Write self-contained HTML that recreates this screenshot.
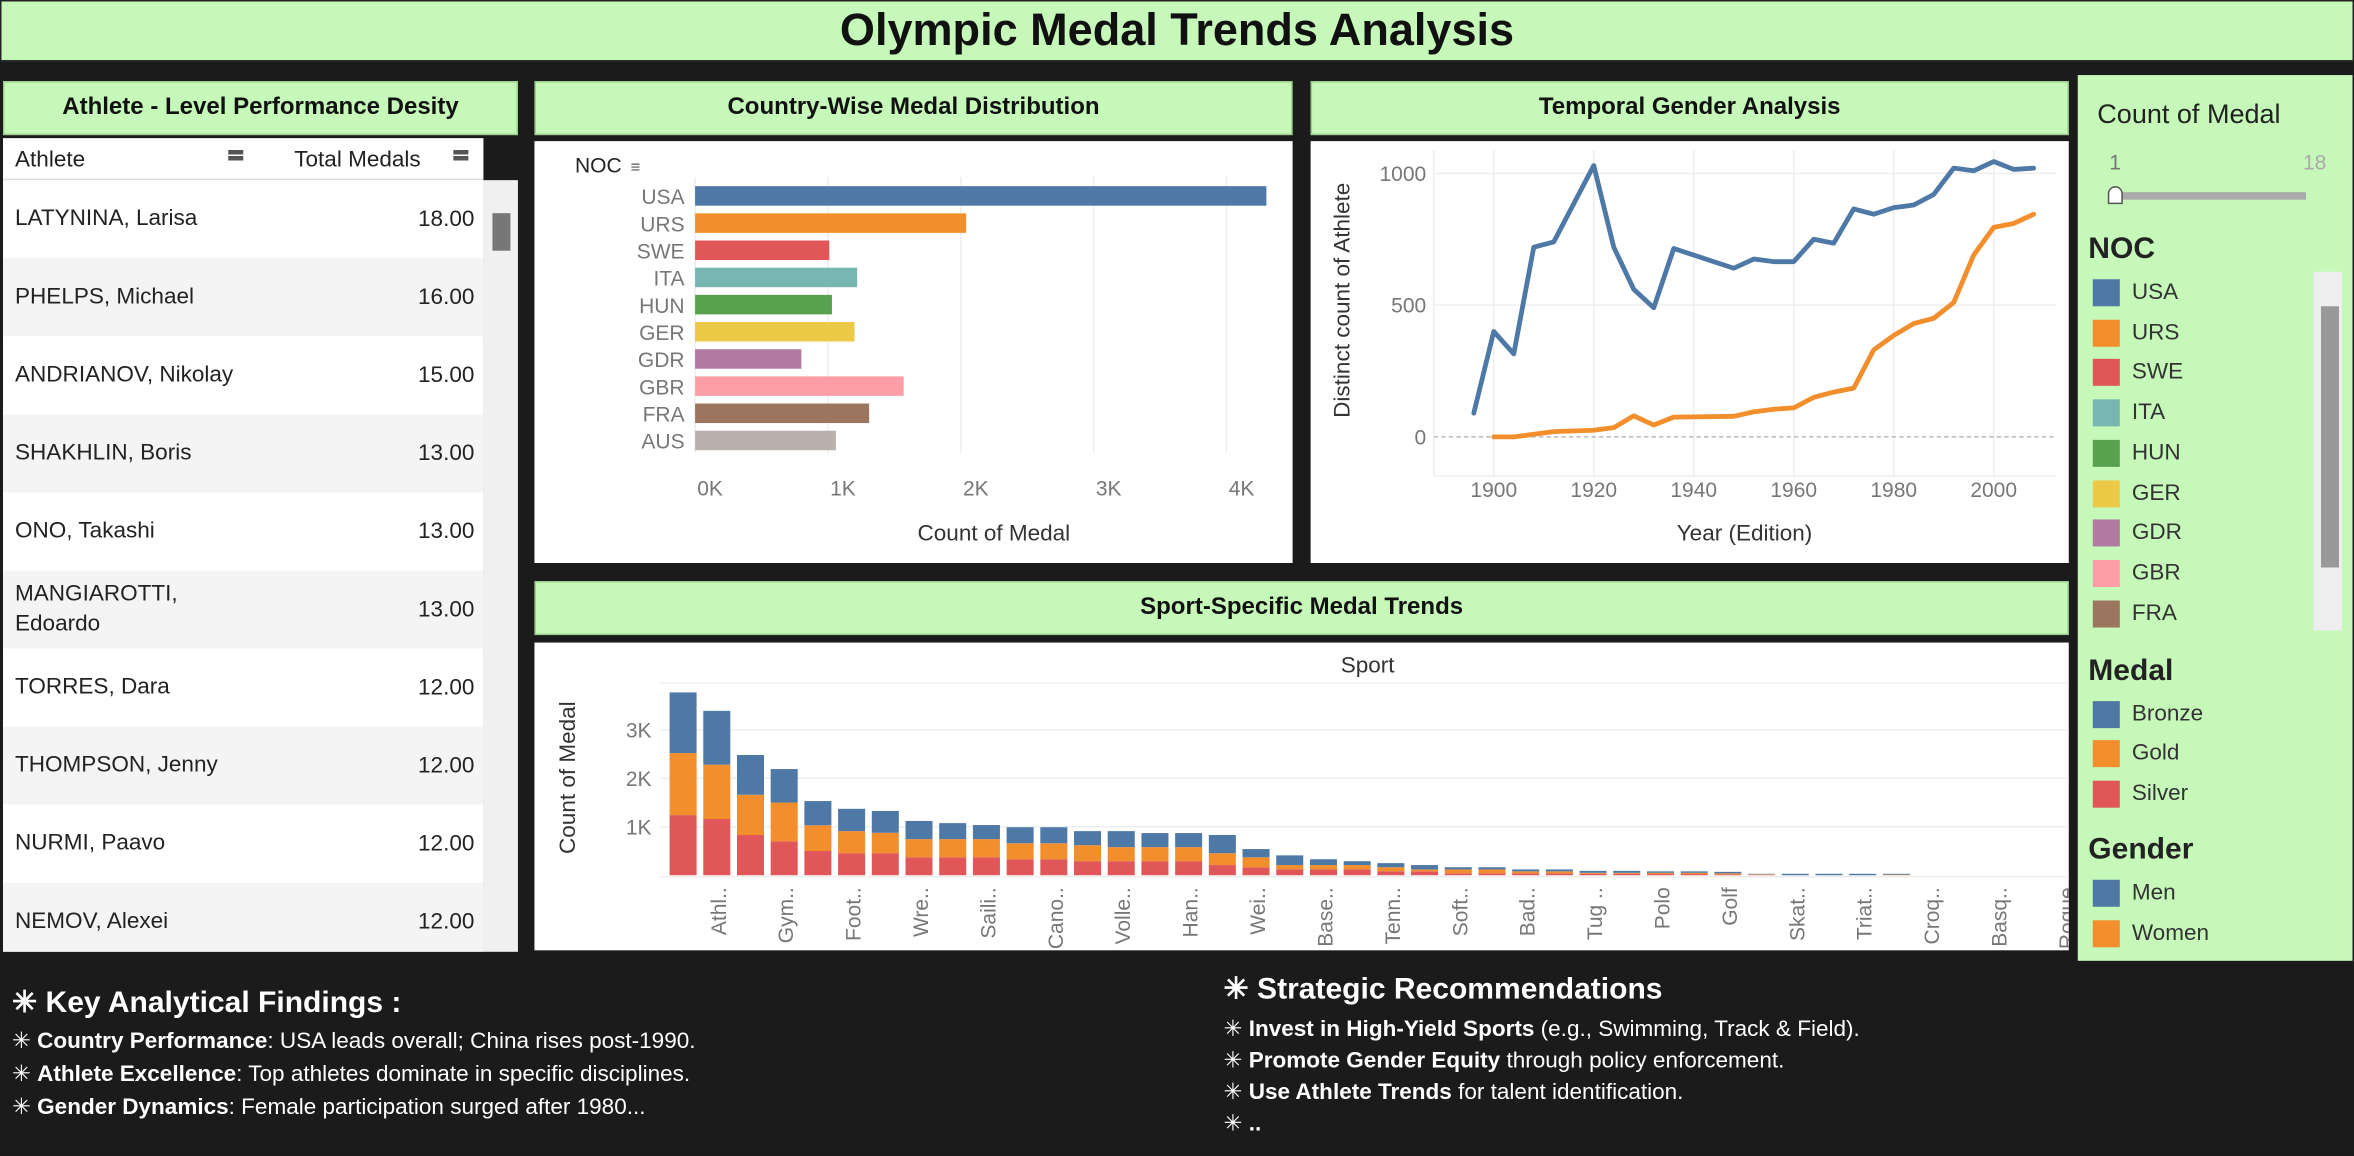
<!DOCTYPE html>
<html><head><meta charset="utf-8">
<style>
html,body{margin:0;padding:0;background:#1b1b1b;overflow:hidden;}
#root{position:absolute;left:0;top:0;width:1568px;height:770px;transform:scale(1.50128);transform-origin:0 0;background:#1b1b1b;font-family:"Liberation Sans",sans-serif;}
.abs{position:absolute;}
.hdr{position:absolute;background:#c6f8ba;border:1px solid #9ad08c;display:flex;align-items:center;justify-content:center;font-weight:bold;font-size:16px;color:#111;box-sizing:border-box;}
.panel{position:absolute;background:#fff;}
.row{position:absolute;left:0;width:320px;height:52px;font-size:15px;color:#222;}
.row .n{position:absolute;left:8px;top:50%;transform:translateY(-50%);line-height:20px;}
.row .v{position:absolute;right:6px;top:50%;transform:translateY(-50%);}
.lg{position:absolute;left:10px;font-size:15px;color:#333;height:20px;}
.lg i{position:absolute;left:0;top:1px;width:18px;height:18px;}
.lg span{position:absolute;left:26px;top:1px;white-space:nowrap;}
.txt{position:absolute;color:#fff;font-size:15px;white-space:nowrap;}
</style></head><body>
<div id="root">
<div class="hdr" style="left:0;top:0;width:1568px;height:41px;font-size:30px;border:1px solid #222;">Olympic Medal Trends Analysis</div>

<div class="hdr" style="left:2px;top:54px;width:343px;height:36px;">Athlete - Level Performance Desity</div>
<div class="panel" style="left:2px;top:92px;width:320px;height:542px;overflow:hidden;">
 <div class="abs" style="left:8px;top:6px;font-size:15px;color:#222;">Athlete</div>
 <div class="abs" style="left:150px;top:7px;width:14px;font-size:10px;line-height:4px;color:#555;">▬<br>▬</div>
 <div class="abs" style="left:194px;top:6px;font-size:15px;color:#222;">Total Medals</div>
 <div class="abs" style="left:300px;top:7px;width:14px;font-size:10px;line-height:4px;color:#555;">▬<br>▬</div>
 <div class="abs" style="left:0;top:27px;width:320px;height:1px;background:#ddd;"></div>
 <div id="rows" class="abs" style="left:0;top:28px;width:320px;height:514px;overflow:hidden;"></div>
</div>
<div class="abs" style="left:322px;top:120px;width:23px;height:514px;background:#f0f0f0;">
 <div class="abs" style="left:6px;top:22px;width:12px;height:25px;background:#777;"></div>
</div>

<div class="hdr" style="left:356px;top:54px;width:505px;height:36px;">Country-Wise Medal Distribution</div>
<div class="panel" style="left:356px;top:94px;width:505px;height:281px;"></div>
<div class="hdr" style="left:873px;top:54px;width:505px;height:36px;">Temporal Gender Analysis</div>
<div class="panel" style="left:873px;top:94px;width:505px;height:281px;"></div>
<div class="hdr" style="left:356px;top:387px;width:1022px;height:36px;">Sport-Specific Medal Trends</div>
<div class="panel" style="left:356px;top:428px;width:1022px;height:205px;"></div>

<svg id="charts" class="abs" style="left:0;top:0;" width="1568" height="770" font-family="Liberation Sans, sans-serif">
<defs><clipPath id="sportclip"><rect x="356" y="428" width="1022" height="205"/></clipPath></defs>
</svg>

<div class="abs" style="left:1384px;top:50px;width:183px;height:590px;background:#c6f8ba;">
 <div class="abs" style="left:13px;top:16px;font-size:18px;color:#222;">Count of Medal</div>
 <div class="abs" style="left:21px;top:50px;font-size:14px;color:#777;">1</div>
 <div class="abs" style="left:150px;top:50px;font-size:14px;color:#aaa;">18</div>
 <div class="abs" style="left:24px;top:78px;width:128px;height:5px;background:#aaa;"></div>
 <div class="abs" style="left:20px;top:74px;width:8px;height:10px;background:#fff;border:1px solid #555;border-radius:5px 5px 0 0;"></div>
 <div class="abs" style="left:7px;top:105px;font-size:20px;font-weight:bold;color:#222;">NOC</div>
 <div id="noclg"></div>
 <div class="abs" style="left:157px;top:131px;width:19px;height:239px;background:#eee;">
  <div class="abs" style="left:5px;top:23px;width:12px;height:174px;background:#999;"></div>
 </div>
 <div class="abs" style="left:7px;top:386px;font-size:20px;font-weight:bold;color:#222;">Medal</div>
 <div class="lg" style="top:416px;"><i style="background:#4e79a7"></i><span>Bronze</span></div>
 <div class="lg" style="top:442px;"><i style="background:#f28e2b"></i><span>Gold</span></div>
 <div class="lg" style="top:469px;"><i style="background:#e15759"></i><span>Silver</span></div>
 <div class="abs" style="left:7px;top:505px;font-size:20px;font-weight:bold;color:#222;">Gender</div>
 <div class="lg" style="top:535px;"><i style="background:#4e79a7"></i><span>Men</span></div>
 <div class="lg" style="top:562px;"><i style="background:#f28e2b"></i><span>Women</span></div>
</div>

<div class="txt" style="left:8px;top:655px;font-size:20px;font-weight:bold;">✳ Key Analytical Findings :</div>
<div class="txt" style="left:8px;top:684px;">✳ <b>Country Performance</b>: USA leads overall; China rises post-1990.</div>
<div class="txt" style="left:8px;top:706px;">✳ <b>Athlete Excellence</b>: Top athletes dominate in specific disciplines.</div>
<div class="txt" style="left:8px;top:728px;">✳ <b>Gender Dynamics</b>: Female participation surged after 1980...</div>
<div class="txt" style="left:815px;top:646px;font-size:20px;font-weight:bold;">✳ Strategic Recommendations</div>
<div class="txt" style="left:815px;top:676px;">✳ <b>Invest in High-Yield Sports</b> (e.g., Swimming, Track &amp; Field).</div>
<div class="txt" style="left:815px;top:697px;">✳ <b>Promote Gender Equity</b> through policy enforcement.</div>
<div class="txt" style="left:815px;top:718px;">✳ <b>Use Athlete Trends</b> for talent identification.</div>
<div class="txt" style="left:815px;top:739px;">✳ <b>..</b></div>
</div>

<script>
// ---- data ----
const athletes = ["LATYNINA, Larisa","PHELPS, Michael","ANDRIANOV, Nikolay","SHAKHLIN, Boris","ONO, Takashi","MANGIAROTTI,<br>Edoardo","TORRES, Dara","THOMPSON, Jenny","NURMI, Paavo","NEMOV, Alexei"];
const athleteMedals = [18,16,15,13,13,13,12,12,12,12];

const nocs = ["USA","URS","SWE","ITA","HUN","GER","GDR","GBR","FRA","AUS"];
const nocMedals = [4300,2040,1010,1220,1030,1200,800,1570,1310,1060];
const nocColors = ["#4e79a7","#f28e2b","#e15759","#76b7b2","#59a14f","#edc948","#b07aa1","#ff9da7","#9c755f","#bab0ac"];
const countryTicks = [0,1000,2000,3000,4000];

const menYears = [1896,1900,1904,1908,1912,1920,1924,1928,1932,1936,1948,1952,1956,1960,1964,1968,1972,1976,1980,1984,1988,1992,1996,2000,2004,2008];
const menCounts = [90,400,315,720,740,1030,720,560,490,715,640,675,665,665,750,735,865,845,870,880,920,1020,1010,1045,1015,1020];
const womenYears = [1900,1904,1908,1912,1920,1924,1928,1932,1936,1948,1952,1956,1960,1964,1968,1972,1976,1980,1984,1988,1992,1996,2000,2004,2008];
const womenCounts = [0,0,10,20,25,35,80,45,75,78,95,105,110,150,170,185,330,385,430,450,510,690,795,810,845];
const yearTicks = [1900,1920,1940,1960,1980,2000];
const athleteTicks = [0,500,1000];

const sportLabels = ["","Athl..","","Gym..","","Foot..","","Wre..","","Saili..","","Cano..","","Volle..","","Han..","","Wei..","","Base..","","Tenn..","","Soft..","","Bad..","","Tug ..","","Polo","","Golf","","Skat..","","Triat..","","Croq..","","Basq..","","Roque"];
const silver = [1240,1160,830,700,500,455,455,370,370,370,330,330,290,290,290,290,210,165,120,120,120,80,80,40,40,40,40,30,30,25,25,20,10,0,0,0,0,0,0,0,0,0];
const gold   = [1280,1120,830,800,530,455,420,375,375,375,330,330,330,290,290,290,245,205,90,90,90,85,40,80,80,40,40,20,20,25,25,20,10,0,0,0,10,0,0,0,0,0];
const bronze = [1250,1110,820,690,500,460,450,375,330,290,330,330,290,330,290,290,375,170,200,120,80,85,90,45,45,40,40,40,40,30,30,30,10,30,30,30,20,0,0,0,0,0];
const sportTicks = [1000,2000,3000];

// ---- table ----
const rows = document.getElementById('rows');
athletes.forEach((a,i)=>{
  const r = document.createElement('div');
  r.className='row';
  r.style.top=(i*52)+'px';
  r.style.background = i%2 ? '#f4f4f4' : '#fff';
  
  
  r.innerHTML='<span class="n">'+a+'</span><span class="v">'+athleteMedals[i].toFixed(2)+'</span>';
  rows.appendChild(r);
});

// ---- NOC legend ----
const nl = document.getElementById('noclg');
nocs.slice(0,9).forEach((n,i)=>{
  const d=document.createElement('div');
  d.className='lg';
  d.style.top=(135+i*26.7)+'px';
  
  
  d.innerHTML='<i style="background:'+nocColors[i]+'"></i><span>'+n+'</span>';
  nl.appendChild(d);
});

// ---- SVG helpers ----
const svg = document.getElementById('charts');
const NS='http://www.w3.org/2000/svg';
function el(tag, attrs, parent, text){
  const e=document.createElementNS(NS,tag);
  for(const k in attrs) e.setAttribute(k,attrs[k]);
  if(text!==undefined) e.textContent=text;
  (parent||svg).appendChild(e);
  return e;
}

// ---- country bars ----
const cx = v => 463 + v*0.0885;
const cy = i => 124 + i*18.1;
countryTicks.forEach(t=>{
  const g=el('line',{x1:cx(t),x2:cx(t),y1:118,y2:302,stroke:'#eee'});
  
  
  const tl=el('text',{x:cx(t)+10,y:330,'font-size':14,fill:'#777','text-anchor':'middle'},svg,(t/1000)+'K');
  
  
});
const nt=el('text',{x:383,y:115,'font-size':14,fill:'#222'},svg,'NOC');


el('text',{x:420,y:115,'font-size':11,fill:'#555'},svg,'≡');
nocs.forEach((n,i)=>{
  const lb=el('text',{x:456,y:cy(i)+12,'font-size':14,fill:'#777','text-anchor':'end'},svg,n);
  
  
  const r=el('rect',{x:cx(0),y:cy(i),width:cx(nocMedals[i])-cx(0),height:13,fill:nocColors[i]});
  
  
});
const cxt=el('text',{x:662,y:360,'font-size':15,fill:'#333','text-anchor':'middle'},svg,'Count of Medal');



// ---- gender lines ----
const gx = y => 995 + (y-1900)*3.33;
const gy = v => 291 - v*0.1755;
yearTicks.forEach(t=>{
  const g=el('line',{x1:gx(t),x2:gx(t),y1:100,y2:318,stroke:'#eee'});
  
  
  const tl=el('text',{x:gx(t),y:331,'font-size':14,fill:'#777','text-anchor':'middle'},svg,t);
  
  
});
athleteTicks.forEach(t=>{
  const g=el('line',{x1:955,x2:1370,y1:gy(t),y2:gy(t),stroke:t===0?'#bbb':'#eee','stroke-dasharray':t===0?'3,2':''});
  
  
  const tl=el('text',{x:950,y:gy(t)+5,'font-size':14,fill:'#777','text-anchor':'end'},svg,t);
  
  
});
el('line',{x1:955,x2:1370,y1:317,y2:317,stroke:'#eee'});
el('line',{x1:955,x2:955,y1:100,y2:317,stroke:'#eee'});
const mp=el('polyline',{points:menYears.map((y,i)=>gx(y)+','+gy(menCounts[i])).join(' '),fill:'none',stroke:'#4e79a7','stroke-width':3.2,'stroke-linejoin':'round','stroke-linecap':'round'});


const wp=el('polyline',{points:womenYears.map((y,i)=>gx(y)+','+gy(womenCounts[i])).join(' '),fill:'none',stroke:'#f28e2b','stroke-width':3.2,'stroke-linejoin':'round','stroke-linecap':'round'});


const gyt=el('text',{x:0,y:0,'font-size':15,fill:'#333','text-anchor':'middle',transform:'translate(899,200) rotate(-90)'},svg,'Distinct count of Athlete');


const gxt=el('text',{x:1162,y:360,'font-size':15,fill:'#333','text-anchor':'middle'},svg,'Year (Edition)');



// ---- sport stacked bars ----
const sx = i => 455 + i*22.45;
const sy = v => 583 - v*0.0323;
const st=el('text',{x:911,y:448,'font-size':15,fill:'#333','text-anchor':'middle'},svg,'Sport');


el('line',{x1:440,x2:1378,y1:455,y2:455,stroke:'#eee'});
sportTicks.forEach(t=>{
  const g=el('line',{x1:440,x2:1378,y1:sy(t),y2:sy(t),stroke:'#eee'});
  
  
  const tl=el('text',{x:434,y:sy(t)+5,'font-size':14,fill:'#777','text-anchor':'end'},svg,(t/1000)+'K');
  
  
});
el('line',{x1:440,x2:1378,y1:584,y2:584,stroke:'#eee'});
const syt=el('text',{x:0,y:0,'font-size':15,fill:'#333','text-anchor':'middle',transform:'translate(383,518) rotate(-90)'},svg,'Count of Medal');


const lblG = el('g',{'clip-path':'url(#sportclip)'});
sportLabels.forEach((lab,i)=>{
  const x=sx(i);
  const s=silver[i], g=gold[i], b=bronze[i];
  const segs=[[0,s,'#e15759','silver'],[s,s+g,'#f28e2b','gold'],[s+g,s+g+b,'#4e79a7','bronze']];
  segs.forEach(sg=>{
    if(sg[1]>sg[0]){
      const r=el('rect',{x:x-9,y:sy(sg[1]),width:18,height:sy(sg[0])-sy(sg[1]),fill:sg[2]});
      
      
    }
  });
  if(lab){
    const t=el('text',{x:0,y:0,'font-size':14,fill:'#777','text-anchor':'end',transform:'translate('+(x+6)+',591) rotate(-90)'},lblG,lab);
    
    
  }
});
</script>
</body></html>
